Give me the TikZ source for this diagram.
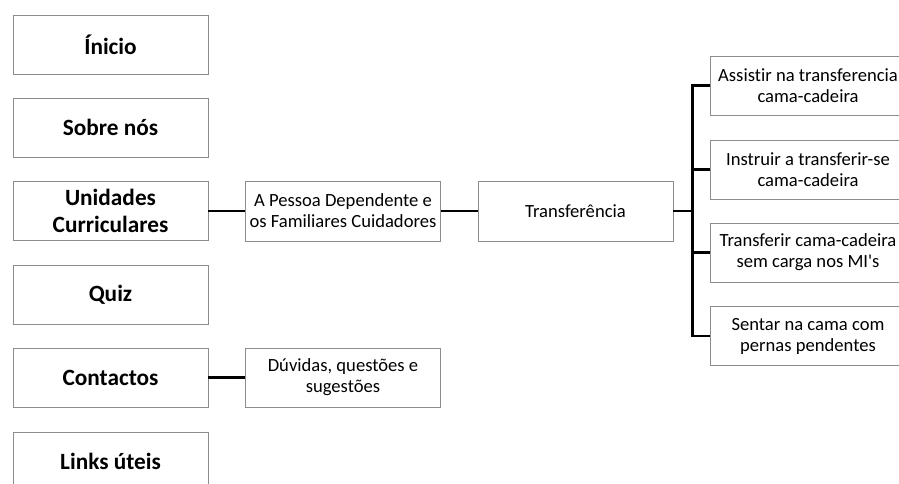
\documentclass[tikz,border=0pt]{standalone}
\usepackage{fontspec}
\setmainfont[Ligatures={TeXOff,NoCommon}]{Carlito}
\usetikzlibrary{positioning,calc}
\definecolor{boxline}{RGB}{140,140,140}
\tikzset{
  box/.style={draw=boxline, line width=0.9pt, fill=white, rectangle, minimum width=195pt, minimum height=59pt, inner sep=0pt, align=center},
  menubox/.style={box, font=\fontsize{23.3}{26.5}\selectfont\bfseries},
  subbox/.style={box, font=\fontsize{18.6}{21}\selectfont},
  conn/.style={draw=black, line width=2.5pt}
}
\begin{document}
\begin{tikzpicture}[x=1pt,y=-1pt]
\useasboundingbox (0,0) rectangle (899,483);
\node[menubox] (inicio) at (110.5,44.5) {Ínicio};
\node[menubox] (sobre) at (110.5,127.5) {Sobre nós};
\node[menubox] (unid) at (110.5,211) {Unidades\\Curriculares};
\node[menubox] (quiz) at (110.5,294.5) {Quiz};
\node[menubox] (contactos) at (110.5,377.5) {Contactos};
\node[menubox] (links) at (110.5,461.5) {Links úteis};
\node[subbox, minimum height=60pt] (pessoa) at (343,211) {A Pessoa Dependente e\\os Familiares Cuidadores};
\node[subbox, minimum height=60pt] (transf) at (575.5,211) {Transferência};
\node[subbox] (duvidas) at (343,377.5) {Dúvidas, questões e\\sugestões};
\node[subbox] (r1) at (808,85.5) {Assistir na transferencia\\cama-cadeira};
\node[subbox] (r2) at (808,169.5) {Instruir a transferir-se\\cama-cadeira};
\node[subbox] (r3) at (808,252.5) {Transferir cama-cadeira\\sem carga nos MI's};
\node[subbox] (r4) at (808,336) {Sentar na cama com\\pernas pendentes};
\draw[conn] (unid.east) -- (pessoa.west);
\draw[conn] (pessoa.east) -- (transf.west);
\draw[conn] (contactos.east) -- (duvidas.west);
\draw[conn] (transf.east) -- ++(19,0) coordinate (bus);
\foreach \r in {r1,r2,r3,r4} { \draw[conn] (bus) |- (\r.west); }
\end{tikzpicture}
\end{document}
